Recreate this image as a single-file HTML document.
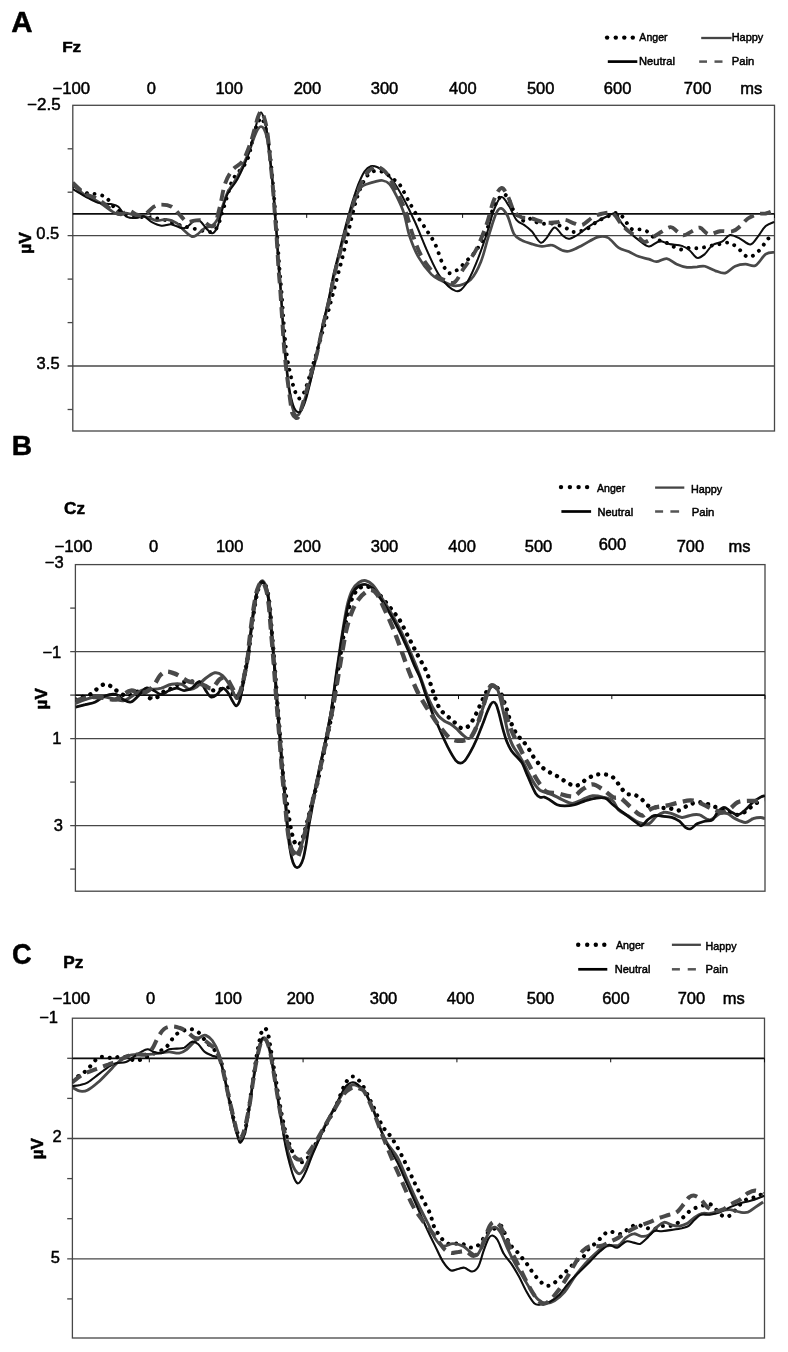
<!DOCTYPE html>
<html><head><meta charset="utf-8"><title>ERP waveforms</title>
<style>
html,body{margin:0;padding:0;background:#fff;}
body{width:788px;height:1352px;overflow:hidden;}
svg{display:block;font-family:"Liberation Sans",sans-serif;fill:#050505;}
text{stroke:#050505;stroke-width:0.5px;stroke-linejoin:round;}
</style></head><body>
<svg width="788" height="1352" viewBox="0 0 788 1352">
<defs><filter id="soft" x="0" y="0" width="788" height="1352" filterUnits="userSpaceOnUse"><feGaussianBlur stdDeviation="0.45"/></filter></defs>
<rect width="788" height="1352" fill="#fff"/>
<g filter="url(#soft)">
<!-- Panel A -->
<clipPath id="clipA"><rect x="72.8" y="103.3" width="701.7" height="329.7"/></clipPath>
<g stroke="#464646" stroke-width="1.3" fill="none">
<line x1="67.6" y1="235.7" x2="774.5" y2="235.7"/>
<line x1="67.6" y1="366.0" x2="774.5" y2="366.0"/>
<line x1="67.6" y1="148.8" x2="72.8" y2="148.8"/>
<line x1="67.6" y1="192.2" x2="72.8" y2="192.2"/>
<line x1="67.6" y1="279.1" x2="72.8" y2="279.1"/>
<line x1="67.6" y1="322.6" x2="72.8" y2="322.6"/>
<line x1="67.6" y1="409.5" x2="72.8" y2="409.5"/>
<rect x="72.8" y="105.3" width="701.7" height="325.7"/>
</g>
<g stroke="#0c0c0c" stroke-width="1.7">
<line x1="72.8" y1="213.9" x2="774.5" y2="213.9"/>
<line x1="150.8" y1="213.9" x2="150.8" y2="217.9" stroke-width="1"/>
<line x1="306.7" y1="213.9" x2="306.7" y2="217.9" stroke-width="1"/>
<line x1="462.6" y1="213.9" x2="462.6" y2="217.9" stroke-width="1"/>
<line x1="618.6" y1="213.9" x2="618.6" y2="217.9" stroke-width="1"/>
<line x1="774.5" y1="213.9" x2="774.5" y2="217.9" stroke-width="1"/>
</g>
<g fill="none" stroke-linejoin="round" clip-path="url(#clipA)">
<path stroke="#030303" stroke-width="3.9" stroke-linecap="round" stroke-dasharray="0.01 7.8" d="M72.7 186.4C75.2 187.6 83.9 192.2 87.9 193.5C91.9 194.7 94.1 193.5 96.8 194.0C99.6 194.5 102.2 195.3 104.4 196.5C106.6 197.8 108.1 199.5 110.0 201.6C111.9 203.7 113.2 207.2 115.8 209.2C118.5 211.2 122.6 212.6 126.0 213.8C129.4 215.0 132.8 215.7 136.1 216.3C139.5 217.0 143.2 217.3 146.3 217.6C149.3 217.9 151.7 217.8 154.4 218.1C157.2 218.4 160.1 218.7 162.8 219.4C165.5 220.0 167.2 220.8 170.4 221.9C173.6 223.0 177.8 224.6 181.8 225.7C185.8 226.9 189.9 227.7 194.5 228.8C199.2 229.8 206.0 232.3 209.7 232.1C213.5 231.8 214.7 230.9 216.9 227.5C219.0 224.1 220.7 217.1 222.4 211.8C224.2 206.4 225.8 200.5 227.5 195.3C229.2 190.0 230.5 184.3 232.6 180.0C234.7 175.8 237.7 173.5 240.2 169.9C242.7 166.3 245.3 165.2 247.8 158.5C250.4 151.7 253.2 136.0 255.4 129.3C257.6 122.5 259.7 119.0 261.1 118.0C262.5 117.0 263.0 120.2 264.0 123.0C265.0 125.8 266.1 130.5 267.0 135.0C267.9 139.5 268.5 141.6 269.5 150.0C270.5 158.4 272.1 174.9 273.1 185.5C274.1 196.1 274.6 205.0 275.3 213.4C276.0 221.8 276.6 227.1 277.2 235.8C277.8 244.5 278.5 256.1 279.2 265.5C279.9 274.9 280.8 283.2 281.5 292.1C282.2 301.0 282.7 309.8 283.4 318.7C284.1 327.6 284.8 337.8 285.6 345.4C286.4 352.9 287.4 359.3 288.2 364.0C289.0 368.7 289.7 370.8 290.4 373.8C291.1 376.8 291.6 379.5 292.3 382.2C293.0 384.9 293.6 387.5 294.6 390.2C295.7 392.9 297.1 398.0 298.6 398.5C300.1 399.0 302.2 395.8 303.7 393.2C305.2 390.6 306.1 387.2 307.5 383.0C308.9 378.8 310.3 373.5 312.0 368.0C313.7 362.5 315.7 356.3 317.5 350.0C319.3 343.7 320.9 337.5 323.0 330.0C325.1 322.5 327.8 313.3 330.0 305.0C332.2 296.7 334.4 288.2 336.5 280.0C338.6 271.8 340.9 263.9 342.8 256.0C344.8 248.1 346.5 239.8 348.2 232.5C349.9 225.2 351.4 218.1 353.0 212.0C354.6 205.9 355.9 200.7 357.5 196.0C359.1 191.3 360.6 187.4 362.3 184.0C364.0 180.6 365.7 177.6 367.5 175.5C369.3 173.4 371.2 172.2 373.0 171.5C374.8 170.8 376.5 170.8 378.5 171.0C380.5 171.2 382.7 171.8 385.0 173.0C387.3 174.2 389.8 176.3 392.3 178.3C394.8 180.3 397.5 181.6 400.0 185.0C402.5 188.4 404.6 193.7 407.5 199.0C410.4 204.3 414.3 211.3 417.7 216.8C421.1 222.3 424.9 227.3 427.8 232.0C430.8 236.7 432.9 239.3 435.4 244.7C437.9 250.1 440.5 259.5 442.8 264.2C445.1 268.9 446.6 272.3 449.2 273.1C451.7 273.9 455.1 271.4 458.1 269.3C461.0 267.2 464.4 262.9 467.0 260.4C469.5 257.9 471.2 256.6 473.3 254.1C475.4 251.5 477.5 248.6 479.6 245.2C481.8 241.8 483.9 239.5 486.0 233.8C488.1 228.0 489.8 217.3 492.3 210.9C494.9 204.6 498.7 198.0 501.2 195.7C503.8 193.4 505.4 194.4 507.6 197.0C509.7 199.5 511.2 206.9 513.9 210.9C516.7 214.9 521.1 219.8 524.1 221.1C527.0 222.3 529.1 218.1 531.7 218.5C534.2 219.0 535.9 222.8 539.3 223.6C542.7 224.5 547.7 223.0 552.0 223.6C556.2 224.2 561.3 226.1 564.7 227.4C568.1 228.8 569.7 231.1 572.3 231.7C574.8 232.4 577.4 231.7 579.9 231.2C582.4 230.7 584.6 230.4 587.5 228.7C590.5 227.0 594.3 223.1 597.7 221.1C601.0 219.0 604.9 217.9 607.8 216.5C610.8 215.1 613.0 212.9 615.4 212.9C617.8 212.9 620.3 214.7 622.3 216.5C624.2 218.3 625.6 221.4 627.3 223.6C629.0 225.8 630.3 228.5 632.4 229.4C634.5 230.4 637.5 229.1 640.0 229.4C642.6 229.8 645.3 230.4 647.6 231.7C650.0 233.1 651.7 236.0 654.0 237.6C656.3 239.2 659.3 240.4 661.6 241.4C663.9 242.3 665.6 242.3 667.9 243.4C670.3 244.5 673.0 246.7 675.6 247.7C678.1 248.8 680.9 249.7 683.2 249.7C685.5 249.7 687.2 248.0 689.5 247.7C691.8 247.5 694.6 248.3 697.1 248.2C699.7 248.1 702.0 247.7 704.8 247.2C707.5 246.7 710.9 245.7 713.6 245.2C716.4 244.6 718.7 244.3 721.2 243.9C723.8 243.5 726.5 242.3 728.9 242.6C731.2 243.0 733.1 244.5 735.2 245.9C737.3 247.4 739.4 249.7 741.6 251.5C743.7 253.4 745.6 256.7 747.9 257.1C750.2 257.5 753.2 255.7 755.5 254.1C757.8 252.4 760.0 249.5 761.9 247.2C763.8 244.9 765.2 242.1 766.9 240.1C768.6 238.1 771.2 235.9 772.0 235.0"/>
<path stroke="#484848" stroke-width="2.7" d="M72.7 185.1C74.8 186.8 81.2 192.5 85.4 195.3C89.6 198.0 93.8 199.1 98.1 201.6C102.3 204.1 107.4 208.4 110.8 210.5C114.1 212.6 115.8 213.9 118.4 214.3C120.9 214.7 123.0 212.8 126.0 213.0C129.0 213.2 132.8 214.9 136.1 215.6C139.5 216.2 142.9 216.0 146.3 216.8C149.7 217.7 153.1 220.2 156.4 220.6C159.8 221.1 163.2 218.9 166.6 219.4C170.0 219.8 173.8 221.3 176.8 223.2C179.7 225.1 181.8 228.5 184.4 230.8C186.9 233.0 189.9 236.0 192.0 236.6C194.1 237.3 194.9 236.0 197.1 234.6C199.2 233.2 202.1 229.7 204.7 228.2C207.2 226.8 210.2 227.2 212.3 225.7C214.4 224.2 215.7 222.5 217.4 219.4C219.1 216.2 220.7 211.1 222.4 206.7C224.1 202.2 225.0 197.8 227.5 192.7C230.1 187.6 234.3 182.6 237.7 176.2C241.0 169.9 245.0 161.3 247.8 154.6C250.7 147.9 253.0 140.3 254.7 136.0C256.4 131.7 256.9 130.6 258.0 129.0C259.1 127.4 260.0 126.5 261.0 126.5C262.0 126.5 263.1 127.4 264.0 129.0C264.9 130.6 265.7 132.8 266.5 136.0C267.3 139.2 267.5 139.7 268.6 148.0C269.7 156.3 271.8 175.0 272.9 186.0C274.0 197.0 274.4 205.5 275.0 213.9C275.6 222.3 276.2 227.6 276.8 236.3C277.4 245.0 278.0 256.6 278.7 266.0C279.4 275.4 280.2 283.7 280.9 292.6C281.5 301.5 282.0 310.3 282.6 319.2C283.2 328.1 283.8 338.0 284.4 346.0C285.0 354.0 285.8 360.3 286.5 367.0C287.2 373.7 287.9 380.3 288.6 386.0C289.4 391.7 290.2 396.8 291.0 401.0C291.8 405.2 292.6 408.6 293.5 411.0C294.4 413.4 295.3 415.1 296.3 415.5C297.3 415.9 298.3 415.6 299.5 413.5C300.7 411.4 302.2 406.9 303.5 403.0C304.8 399.1 306.2 394.5 307.5 390.0C308.8 385.5 309.9 381.8 311.5 376.0C313.1 370.2 315.0 362.9 316.8 355.0C318.6 347.1 320.3 337.3 322.3 328.5C324.3 319.7 326.7 310.9 328.7 302.0C330.7 293.1 332.2 283.9 334.2 275.3C336.1 266.7 338.5 258.1 340.4 250.5C342.3 242.9 344.0 236.1 345.8 229.5C347.6 222.9 349.4 216.2 351.0 211.0C352.6 205.8 353.8 201.9 355.5 198.0C357.2 194.1 358.9 189.7 361.0 187.3C363.1 184.9 365.6 184.6 368.0 183.7C370.4 182.8 372.9 182.1 375.3 181.6C377.7 181.1 380.0 180.1 382.4 180.5C384.8 180.9 387.1 181.4 389.5 184.0C391.9 186.6 394.1 191.1 396.5 196.0C398.9 200.9 401.9 206.9 404.0 213.5C406.1 220.1 406.9 228.1 409.3 235.3C411.7 242.5 414.5 250.1 418.2 256.6C421.9 263.1 427.5 270.3 431.4 274.4C435.3 278.4 437.6 278.8 441.6 280.7C445.6 282.6 450.7 286.0 455.5 285.8C460.4 285.6 466.5 283.5 470.8 279.4C475.0 275.4 478.0 268.9 480.9 261.7C483.9 254.5 486.0 244.3 488.5 236.3C491.1 228.3 494.0 218.1 496.1 213.5C498.3 208.8 499.3 208.0 501.2 208.4C503.1 208.8 505.4 211.8 507.6 216.0C509.7 220.2 511.6 229.7 513.9 233.8C516.2 237.8 518.6 238.4 521.5 240.1C524.5 241.8 528.3 242.9 531.7 243.9C535.1 245.0 538.4 246.2 541.8 246.4C545.2 246.7 548.6 244.5 552.0 245.2C555.4 245.8 559.2 249.3 562.1 250.3C565.1 251.2 566.4 251.9 569.7 251.0C573.1 250.2 577.8 247.5 582.4 245.2C587.1 242.9 593.4 238.3 597.7 237.1C601.9 235.8 604.4 235.8 607.8 237.6C611.3 239.3 615.0 245.4 618.5 247.7C621.9 250.0 625.2 250.0 628.6 251.5C632.0 253.0 635.4 255.3 638.8 256.6C642.1 257.9 646.0 258.3 648.9 259.1C651.9 260.0 653.6 261.8 656.5 261.7C659.5 261.6 663.3 258.2 666.7 258.6C670.1 259.1 673.4 262.8 676.8 264.2C680.2 265.7 683.6 266.8 687.0 267.3C690.4 267.7 694.2 266.9 697.1 266.8C700.1 266.6 701.8 265.6 704.8 266.2C707.7 266.9 711.5 269.4 714.9 270.6C718.3 271.7 721.7 273.8 725.1 273.1C728.4 272.4 731.8 267.7 735.2 266.2C738.6 264.8 742.0 264.3 745.4 264.2C748.7 264.1 752.1 267.2 755.5 265.5C758.9 263.8 762.5 256.3 765.7 254.1C768.8 251.9 773.1 252.6 774.5 252.3"/>
<path stroke="#080808" stroke-width="2.0" d="M72.7 188.9C74.8 190.2 81.2 194.2 85.4 196.5C89.6 198.8 93.8 201.6 98.1 202.9C102.3 204.1 107.4 203.5 110.8 204.1C114.1 204.8 115.8 204.6 118.4 206.7C120.9 208.7 123.0 214.4 126.0 216.3C129.0 218.2 133.2 218.1 136.1 218.1C139.1 218.1 141.2 215.7 143.8 216.3C146.3 217.0 148.4 220.3 151.4 221.9C154.3 223.5 158.1 225.3 161.5 225.7C164.9 226.1 168.3 224.0 171.7 224.4C175.1 224.9 179.3 227.8 181.8 228.2C184.4 228.7 184.8 228.2 186.9 227.0C189.0 225.7 192.4 221.7 194.5 220.6C196.6 219.6 197.5 219.2 199.6 220.6C201.7 222.1 205.1 227.4 207.2 229.5C209.3 231.6 210.6 233.7 212.3 233.3C214.0 232.9 215.7 231.0 217.4 227.0C219.1 223.0 220.7 214.7 222.4 209.2C224.1 203.7 225.0 199.1 227.5 194.0C230.1 188.9 234.3 185.1 237.7 178.8C241.0 172.4 244.9 164.4 247.8 155.9C250.8 147.5 253.7 134.4 255.4 128.0C257.2 121.6 257.4 120.1 258.3 117.5C259.2 114.9 260.1 112.5 261.0 112.5C261.9 112.5 262.7 114.6 263.7 117.5C264.7 120.4 265.9 124.6 266.8 130.0C267.7 135.4 268.3 140.8 269.3 150.0C270.3 159.2 271.9 174.9 272.9 185.5C273.8 196.1 274.4 205.0 275.0 213.4C275.6 221.8 276.2 227.1 276.8 235.8C277.4 244.5 278.0 256.1 278.7 265.5C279.4 274.9 280.2 283.2 280.9 292.1C281.5 301.0 282.0 309.8 282.6 318.7C283.2 327.6 283.8 337.5 284.4 345.4C285.0 353.3 285.8 359.5 286.5 366.3C287.2 373.1 288.0 380.8 288.8 386.2C289.6 391.6 290.6 395.3 291.5 399.0C292.4 402.7 293.4 406.3 294.5 408.5C295.6 410.7 296.8 412.1 298.0 412.3C299.2 412.5 300.5 411.6 301.8 409.6C303.1 407.6 304.5 403.9 305.6 400.5C306.8 397.1 307.7 392.9 308.7 389.0C309.7 385.1 310.3 382.8 311.6 377.0C312.9 371.2 314.9 362.5 316.6 354.3C318.3 346.1 320.1 336.5 322.0 327.6C323.9 318.7 326.3 309.9 328.2 301.0C330.1 292.1 331.6 282.9 333.5 274.3C335.4 265.7 337.8 257.2 339.7 249.5C341.6 241.8 343.2 235.0 345.0 228.2C346.8 221.4 348.8 214.2 350.4 208.6C352.0 203.0 353.3 198.8 354.8 194.4C356.3 190.0 357.7 185.8 359.3 182.0C360.9 178.2 362.7 173.9 364.6 171.3C366.5 168.7 368.7 167.0 370.8 166.3C372.9 165.6 374.8 166.1 377.0 167.0C379.2 167.9 381.4 169.3 384.0 171.5C386.6 173.7 389.2 175.8 392.3 180.0C395.4 184.2 398.6 189.5 402.4 196.5C406.2 203.5 410.8 212.7 415.0 222.0C419.2 231.3 423.6 243.2 427.8 252.4C432.0 261.6 435.7 270.5 440.3 276.9C444.9 283.3 451.3 289.6 455.5 290.9C459.8 292.1 462.3 289.0 465.7 284.5C469.1 280.1 472.5 272.3 475.8 264.2C479.2 256.2 483.0 245.2 486.0 236.3C489.0 227.4 491.1 217.5 493.6 210.9C496.1 204.4 498.7 197.8 501.2 197.0C503.8 196.1 506.3 202.0 508.8 205.8C511.4 209.6 513.9 216.6 516.4 219.8C519.0 223.0 521.5 223.0 524.1 224.9C526.6 226.8 528.9 228.3 531.7 231.2C534.4 234.2 538.0 241.6 540.6 242.6C543.1 243.7 544.6 240.1 546.9 237.6C549.2 235.0 552.0 227.8 554.5 227.4C557.1 227.0 559.8 233.1 562.1 235.0C564.5 236.9 565.9 238.8 568.5 238.8C571.0 238.8 574.2 236.9 577.4 235.0C580.5 233.1 584.1 229.7 587.5 227.4C590.9 225.1 594.3 223.0 597.7 221.1C601.0 219.2 604.9 217.3 607.8 216.0C610.8 214.7 613.2 212.4 615.4 213.5C617.6 214.5 618.4 219.0 621.0 222.3C623.6 225.7 628.2 230.8 631.1 233.8C634.1 236.7 635.8 238.0 638.8 240.1C641.7 242.2 645.5 246.2 648.9 246.4C652.3 246.7 655.7 241.8 659.1 241.4C662.5 240.9 665.4 243.1 669.2 243.9C673.0 244.7 678.5 244.9 681.9 245.9C685.3 247.0 687.0 248.3 689.5 250.3C692.1 252.2 694.6 257.2 697.1 257.9C699.7 258.5 702.2 256.2 704.8 254.1C707.3 251.9 709.4 247.3 712.4 245.2C715.3 243.1 719.6 243.1 722.5 241.4C725.5 239.7 727.2 235.4 730.1 235.0C733.1 234.6 736.9 237.3 740.3 238.8C743.7 240.4 747.5 244.8 750.4 244.4C753.4 244.0 755.5 239.3 758.1 236.3C760.6 233.2 762.9 228.6 765.7 226.1C768.4 223.7 773.1 222.5 774.5 221.8"/>
<path stroke="#484848" stroke-width="3.9" stroke-dasharray="11 6.5" d="M72.7 182.6C74.8 184.5 81.2 191.2 85.4 194.0C89.6 196.7 93.8 196.5 98.1 199.1C102.3 201.6 107.0 206.7 110.8 209.2C114.6 211.8 118.0 214.1 120.9 214.3C123.9 214.5 126.0 210.5 128.5 210.5C131.1 210.5 133.6 213.4 136.1 214.3C138.7 215.1 140.8 216.8 143.8 215.6C146.7 214.3 150.9 208.5 153.9 206.7C156.9 204.9 158.6 204.6 161.5 204.6C164.5 204.6 168.7 205.1 171.7 206.7C174.6 208.3 176.8 211.8 179.3 214.3C181.8 216.8 184.4 220.8 186.9 221.9C189.4 223.0 192.0 220.8 194.5 220.6C197.1 220.4 199.6 219.8 202.1 220.6C204.7 221.5 207.6 225.1 209.7 225.7C211.9 226.3 213.1 227.6 214.8 224.4C216.5 221.3 218.2 213.4 219.9 206.7C221.6 199.9 222.9 190.0 225.0 183.8C227.1 177.7 229.6 173.7 232.6 169.9C235.5 166.1 239.8 165.4 242.7 161.0C245.7 156.5 248.4 148.4 250.4 143.2C252.3 138.1 253.0 134.4 254.3 130.0C255.6 125.6 256.9 120.1 258.0 117.0C259.1 113.9 260.0 111.5 261.0 111.5C262.0 111.5 263.0 113.9 264.0 117.0C265.0 120.1 266.1 124.5 267.0 130.0C267.9 135.5 268.4 140.8 269.3 150.0C270.2 159.2 271.8 174.9 272.7 185.5C273.6 196.1 274.2 205.0 274.8 213.4C275.4 221.8 275.9 227.1 276.5 235.8C277.1 244.5 277.7 256.1 278.3 265.5C278.9 274.9 279.8 283.2 280.4 292.1C281.0 301.0 281.5 309.8 282.1 318.7C282.7 327.6 283.3 337.5 283.9 345.4C284.5 353.3 285.2 359.9 285.9 366.3C286.6 372.7 287.2 377.8 288.0 383.7C288.8 389.6 289.7 397.1 290.4 402.0C291.1 406.9 291.4 410.8 292.3 413.4C293.2 416.0 294.6 417.3 295.7 417.8C296.8 418.3 297.5 418.8 298.7 416.5C299.9 414.2 301.2 408.9 302.6 404.3C304.0 399.7 305.6 394.1 307.0 389.0C308.4 383.9 309.4 379.6 311.0 373.8C312.6 368.0 314.9 362.0 316.8 354.3C318.7 346.6 320.5 336.5 322.5 327.6C324.5 318.7 327.0 309.9 329.0 301.0C331.0 292.1 332.5 282.9 334.5 274.3C336.5 265.7 338.9 257.2 340.9 249.5C342.9 241.8 344.5 235.0 346.3 228.2C348.1 221.4 350.1 214.2 351.8 208.6C353.5 203.0 354.9 198.8 356.5 194.4C358.1 190.1 359.7 186.2 361.5 182.5C363.3 178.8 365.5 175.0 367.5 172.5C369.5 170.0 371.7 168.4 373.5 167.5C375.3 166.6 376.3 166.1 378.3 166.8C380.3 167.6 383.2 169.5 385.5 172.0C387.8 174.5 389.8 178.0 392.0 182.0C394.2 186.0 396.6 190.8 399.0 196.0C401.4 201.2 404.0 206.9 406.3 213.5C408.6 220.1 410.3 228.1 412.9 235.3C415.5 242.5 418.0 250.1 421.7 256.6C425.4 263.1 431.2 270.5 435.0 274.4C438.7 278.3 440.9 278.6 444.1 279.9C447.3 281.3 451.1 284.3 454.3 282.5C457.4 280.7 459.6 274.7 463.1 269.3C466.7 263.9 472.0 257.4 475.8 250.3C479.6 243.1 483.0 234.4 486.0 226.1C489.0 217.9 491.1 207.1 493.6 200.8C496.1 194.4 498.9 188.9 501.2 188.1C503.5 187.2 505.4 191.9 507.6 195.7C509.7 199.5 511.6 207.3 513.9 210.9C516.2 214.5 518.6 216.0 521.5 217.3C524.5 218.5 527.9 217.7 531.7 218.5C535.5 219.4 540.1 221.7 544.4 222.3C548.6 223.0 553.7 222.8 557.1 222.3C560.4 221.9 561.7 219.6 564.7 219.8C567.6 220.0 571.9 222.8 574.8 223.6C577.8 224.5 579.5 225.9 582.4 224.9C585.4 223.8 589.2 219.2 592.6 217.3C596.0 215.4 599.4 214.1 602.7 213.5C606.1 212.8 609.9 211.8 612.9 213.5C615.9 215.1 618.4 220.6 621.0 223.6C623.6 226.6 625.6 228.9 628.6 231.2C631.6 233.5 636.0 235.8 638.8 237.6C641.6 239.3 642.4 242.3 645.4 241.9C648.3 241.5 652.4 237.5 656.5 235.0C660.6 232.6 666.6 227.8 670.0 227.2C673.4 226.5 674.6 229.9 676.8 231.2C679.1 232.6 680.9 235.3 683.4 235.3C686.0 235.3 689.3 232.5 692.1 231.2C694.8 229.9 697.1 227.2 699.9 227.7C702.7 228.2 705.5 233.7 708.8 234.3C712.2 234.9 716.0 231.7 720.0 231.2C724.0 230.7 729.3 232.1 732.7 231.2C736.1 230.4 737.7 228.3 740.3 226.1C742.8 224.0 744.9 220.6 747.9 218.5C750.9 216.5 755.1 214.8 758.1 214.0C761.0 213.1 762.9 214.0 765.7 213.5C768.4 212.9 773.1 210.9 774.5 210.4"/>
</g>
<text transform="translate(11.36,31.80) scale(0.992,1)" font-size="29.8" font-weight="bold">A</text>
<text transform="translate(62.14,51.60) scale(1.168,1)" font-size="14.7" font-weight="bold">Fz</text>
<text transform="translate(52.40,93.60) scale(1.015,1)" font-size="16.5">−100</text>
<text transform="translate(146.82,93.60) scale(1.000,1)" font-size="16.5">0</text>
<text transform="translate(215.43,93.60) scale(1.000,1)" font-size="16.5">100</text>
<text transform="translate(293.64,93.60) scale(1.000,1)" font-size="16.5">200</text>
<text transform="translate(370.74,93.60) scale(1.000,1)" font-size="16.5">300</text>
<text transform="translate(449.07,93.60) scale(1.000,1)" font-size="16.5">400</text>
<text transform="translate(526.92,93.60) scale(1.000,1)" font-size="16.5">500</text>
<text transform="translate(603.84,93.60) scale(1.000,1)" font-size="16.5">600</text>
<text transform="translate(683.84,93.60) scale(1.000,1)" font-size="16.5">700</text>
<text transform="translate(740.26,93.60) scale(1.000,1)" font-size="16.5">ms</text>
<text transform="translate(27.09,109.90) scale(1.029,1)" font-size="16.5">−2.5</text>
<text transform="translate(36.33,238.70) scale(1.000,1)" font-size="16.5">0.5</text>
<text transform="translate(36.62,369.20) scale(1.000,1)" font-size="16.5">3.5</text>
<text transform="translate(31.20,253.83) rotate(-90) scale(1.050,1)" font-size="16.6" font-weight="bold">µV</text>
<circle cx="607.1" cy="37.6" r="2.2" fill="#030303"/>
<circle cx="615.8" cy="37.6" r="2.2" fill="#030303"/>
<circle cx="624.3" cy="37.6" r="2.2" fill="#030303"/>
<circle cx="632.8" cy="37.6" r="2.2" fill="#030303"/>
<text transform="translate(639.37,41.00) scale(0.935,1)" font-size="11.3">Anger</text>
<line x1="701.2" y1="38.0" x2="731.6" y2="38.0" stroke="#444" stroke-width="2.3"/>
<text transform="translate(731.70,41.30) scale(0.969,1)" font-size="11.3">Happy</text>
<line x1="607.8" y1="61.6" x2="637.3" y2="61.6" stroke="#030303" stroke-width="2.7"/>
<text transform="translate(638.98,65.40) scale(0.987,1)" font-size="11.3">Neutral</text>
<line x1="699.2" y1="61.6" x2="707.0" y2="61.6" stroke="#555" stroke-width="2.5"/>
<line x1="714.5" y1="61.6" x2="722.5" y2="61.6" stroke="#555" stroke-width="2.5"/>
<text transform="translate(731.67,65.10) scale(0.997,1)" font-size="11.3">Pain</text>
<!-- Panel B -->
<clipPath id="clipB"><rect x="75.4" y="562.6" width="689.6" height="330.6"/></clipPath>
<g stroke="#464646" stroke-width="1.3" fill="none">
<line x1="70.2" y1="651.6" x2="765.0" y2="651.6"/>
<line x1="70.2" y1="738.6" x2="765.0" y2="738.6"/>
<line x1="70.2" y1="825.6" x2="765.0" y2="825.6"/>
<line x1="70.2" y1="608.1" x2="75.4" y2="608.1"/>
<line x1="70.2" y1="695.1" x2="75.4" y2="695.1"/>
<line x1="70.2" y1="782.1" x2="75.4" y2="782.1"/>
<line x1="70.2" y1="869.1" x2="75.4" y2="869.1"/>
<rect x="75.4" y="564.6" width="689.6" height="326.6"/>
</g>
<g stroke="#0c0c0c" stroke-width="1.7">
<line x1="75.4" y1="695.1" x2="765.0" y2="695.1"/>
<line x1="152.0" y1="695.1" x2="152.0" y2="699.1" stroke-width="1"/>
<line x1="305.3" y1="695.1" x2="305.3" y2="699.1" stroke-width="1"/>
<line x1="458.5" y1="695.1" x2="458.5" y2="699.1" stroke-width="1"/>
<line x1="611.8" y1="695.1" x2="611.8" y2="699.1" stroke-width="1"/>
<line x1="765.0" y1="695.1" x2="765.0" y2="699.1" stroke-width="1"/>
</g>
<g fill="none" stroke-linejoin="round" clip-path="url(#clipB)">
<path stroke="#030303" stroke-width="4.37" stroke-linecap="round" stroke-dasharray="0.01 7.8" d="M75.6 699.5C76.8 699.1 80.2 697.8 82.7 697.0C85.1 696.1 88.0 695.7 90.3 694.4C92.6 693.1 94.3 691.0 96.6 689.3C99.0 687.6 101.7 684.7 104.3 684.3C106.8 683.8 109.6 685.5 111.9 686.8C114.2 688.1 115.9 690.4 118.2 691.9C120.5 693.4 123.3 695.3 125.8 695.7C128.4 696.1 130.9 695.3 133.5 694.4C136.0 693.6 138.3 690.0 141.1 690.6C143.8 691.2 147.2 697.2 149.9 698.2C152.7 699.3 155.0 698.2 157.6 697.0C160.1 695.7 162.6 692.1 165.2 690.6C167.7 689.1 170.3 689.3 172.8 688.1C175.3 686.8 177.9 684.1 180.4 683.0C182.9 681.9 185.5 681.9 188.0 681.7C190.6 681.5 193.1 681.3 195.6 681.7C198.2 682.1 200.9 683.0 203.2 684.3C205.6 685.5 207.3 688.3 209.6 689.3C211.9 690.4 214.9 690.8 217.2 690.6C219.5 690.4 221.4 688.5 223.6 688.1C225.7 687.6 228.0 686.6 229.9 688.1C231.8 689.6 233.3 695.9 235.0 697.0C236.7 698.0 238.6 697.6 240.1 694.4C241.5 691.2 242.6 684.1 243.9 677.9C245.1 671.8 246.6 663.8 247.7 657.6C248.7 651.5 249.3 647.3 250.1 641.0C250.9 634.7 251.8 626.2 252.7 619.7C253.6 613.2 254.5 607.0 255.4 602.0C256.3 597.0 256.9 592.9 258.1 589.5C259.3 586.1 261.0 581.5 262.5 581.5C264.0 581.5 265.7 585.5 266.9 589.5C268.1 593.5 268.9 599.3 269.6 605.5C270.4 611.7 270.8 619.7 271.4 626.8C272.0 633.9 272.6 641.1 273.2 648.2C273.8 655.3 274.3 661.8 274.9 669.5C275.5 677.2 276.1 686.3 276.7 694.3C277.3 702.3 277.9 710.0 278.5 717.4C279.1 724.8 279.7 731.3 280.3 738.7C280.9 746.1 281.4 754.4 282.0 761.8C282.6 769.2 283.3 778.4 283.8 783.1C284.3 787.8 284.6 787.0 285.1 790.0C285.6 793.0 286.1 797.2 286.6 801.0C287.1 804.8 287.6 809.2 288.2 813.0C288.8 816.8 289.4 820.5 290.0 824.0C290.6 827.5 291.2 831.0 292.0 834.0C292.8 837.0 293.5 840.1 294.5 842.0C295.5 843.9 296.8 845.7 298.0 845.5C299.2 845.3 300.4 843.2 301.5 841.0C302.6 838.8 303.5 835.3 304.5 832.0C305.5 828.7 306.5 824.8 307.5 821.0C308.5 817.2 309.5 813.0 310.5 809.0C311.5 805.0 312.4 801.3 313.5 797.0C314.6 792.7 315.8 789.6 317.3 783.1C318.8 776.6 320.8 766.6 322.6 758.3C324.4 750.0 326.2 741.6 327.9 733.4C329.6 725.2 331.1 718.2 332.6 709.0C334.1 699.8 335.5 688.2 337.0 678.0C338.5 667.8 340.1 656.8 341.5 648.0C342.9 639.2 344.0 631.8 345.3 625.0C346.6 618.2 347.8 612.0 349.2 607.0C350.6 602.0 351.9 598.2 353.6 595.0C355.3 591.8 357.4 589.4 359.5 588.0C361.6 586.6 364.0 586.3 366.3 586.5C368.6 586.7 371.0 587.2 373.5 589.0C376.0 590.8 379.0 594.2 381.5 597.0C384.0 599.8 386.5 603.2 388.6 605.8C390.7 608.4 392.3 610.3 394.0 612.5C395.7 614.7 397.5 616.6 399.0 619.0C400.5 621.4 401.8 624.2 403.2 626.8C404.6 629.4 405.9 632.2 407.2 634.7C408.5 637.2 409.7 639.5 411.0 642.0C412.3 644.5 413.5 646.9 414.8 649.5C416.1 652.1 417.6 654.9 419.0 657.5C420.4 660.1 421.9 662.7 423.2 665.2C424.5 667.7 425.8 669.6 426.9 672.3C428.0 675.0 428.8 678.4 429.7 681.2C430.6 684.0 431.3 686.4 432.2 689.0C433.1 691.6 433.8 694.0 434.8 696.7C435.8 699.4 436.7 702.8 438.0 705.3C439.3 707.8 440.7 710.0 442.5 712.0C444.3 714.0 446.8 715.7 448.9 717.5C451.0 719.3 453.1 721.2 455.3 723.0C457.5 724.8 459.7 727.8 461.9 728.3C464.1 728.8 466.8 727.6 468.7 726.0C470.6 724.4 472.1 721.2 473.6 718.7C475.1 716.2 476.3 713.5 477.6 710.8C478.9 708.1 480.0 705.3 481.2 702.7C482.4 700.1 483.6 697.3 484.8 695.0C486.0 692.7 487.2 690.6 488.5 689.0C489.8 687.4 491.3 685.3 492.8 685.2C494.3 685.1 496.2 686.8 497.7 688.3C499.1 689.8 500.4 692.0 501.5 694.4C502.6 696.8 503.5 699.9 504.5 702.7C505.5 705.5 506.4 708.2 507.3 711.0C508.2 713.8 508.8 716.7 509.8 719.5C510.8 722.3 511.9 724.9 513.2 727.6C514.5 730.3 515.9 733.3 517.5 735.5C519.1 737.7 521.0 738.6 522.8 740.8C524.6 742.9 526.6 745.7 528.4 748.4C530.2 751.1 532.0 754.6 533.4 756.8C534.8 759.0 535.9 760.1 537.0 761.5C538.1 762.9 538.8 763.9 540.0 765.2C541.2 766.5 542.6 767.8 544.4 769.1C546.2 770.4 548.4 771.6 550.7 772.9C553.0 774.2 555.8 775.3 558.3 776.8C560.8 778.3 563.3 780.3 565.9 781.8C568.5 783.3 571.3 785.2 573.6 785.6C575.9 786.0 577.8 785.5 579.9 784.4C582.0 783.3 583.9 780.8 586.2 779.3C588.5 777.8 591.4 776.4 593.9 775.5C596.4 774.6 598.8 774.2 601.5 774.2C604.2 774.2 607.9 774.5 610.3 775.5C612.7 776.6 614.1 778.6 615.9 780.6C617.7 782.6 619.2 785.5 621.0 787.7C622.8 789.9 624.5 792.7 626.6 793.8C628.7 794.9 631.3 793.8 633.7 794.6C636.1 795.3 638.5 796.6 640.8 798.4C643.1 800.2 645.2 804.0 647.6 805.5C650.1 807.0 652.7 806.8 655.3 807.3C657.8 807.7 660.3 807.8 662.9 808.0C665.4 808.2 667.9 808.1 670.5 808.5C673.0 809.0 675.8 810.8 678.1 810.6C680.4 810.3 682.5 808.2 684.4 807.3C686.4 806.3 687.4 805.6 689.5 804.7C691.6 803.9 694.4 802.4 697.1 802.2C699.9 802.0 703.3 802.7 706.0 803.5C708.8 804.2 711.1 805.7 713.6 806.5C716.2 807.3 718.7 807.6 721.2 808.5C723.8 809.5 726.3 811.3 728.9 812.3C731.4 813.4 733.9 814.9 736.5 814.9C739.0 814.9 742.0 813.4 744.1 812.3C746.2 811.3 747.3 810.0 749.2 808.5C751.1 807.0 753.4 804.8 755.5 803.5C757.6 802.1 760.8 800.9 761.9 800.4"/>
<path stroke="#484848" stroke-width="3.02" d="M75.6 703.3C77.2 702.7 81.9 700.5 85.2 699.5C88.5 698.4 92.0 697.4 95.4 697.0C98.8 696.5 102.1 696.5 105.5 697.0C108.9 697.4 112.7 698.9 115.7 699.5C118.6 700.1 120.8 701.2 123.3 700.8C125.8 700.3 128.4 698.4 130.9 697.0C133.5 695.5 136.0 693.1 138.5 691.9C141.1 690.6 143.6 689.8 146.1 689.3C148.7 688.9 151.2 689.6 153.8 689.3C156.3 689.1 158.4 688.9 161.4 688.1C164.3 687.2 168.1 684.9 171.5 684.3C174.9 683.6 178.7 683.4 181.7 684.3C184.6 685.1 186.8 688.9 189.3 689.3C191.8 689.8 194.4 688.5 196.9 686.8C199.4 685.1 201.6 681.5 204.5 679.2C207.5 676.9 211.7 673.5 214.7 672.8C217.6 672.2 219.7 673.3 222.3 675.4C224.8 677.5 227.6 681.7 229.9 685.5C232.2 689.3 234.6 697.0 236.2 698.2C237.9 699.5 238.8 696.5 240.1 693.1C241.3 689.8 242.6 683.8 243.9 677.9C245.1 672.0 246.7 663.9 247.7 657.6C248.7 651.3 249.1 646.7 249.9 640.2C250.7 633.7 251.6 625.4 252.5 618.9C253.4 612.4 254.3 606.2 255.2 601.2C256.1 596.2 256.7 592.1 257.9 588.7C259.1 585.3 260.8 580.7 262.3 580.7C263.8 580.7 265.5 584.7 266.7 588.7C267.9 592.7 268.6 598.5 269.4 604.7C270.1 610.9 270.6 618.9 271.2 626.0C271.8 633.1 272.4 640.3 273.0 647.4C273.6 654.5 274.1 661.0 274.7 668.7C275.3 676.4 275.9 685.5 276.5 693.5C277.1 701.5 277.7 709.2 278.3 716.6C278.9 724.0 279.5 730.5 280.1 737.9C280.7 745.3 281.2 753.6 281.8 761.0C282.4 768.4 282.9 774.6 283.6 782.3C284.3 790.0 285.3 800.0 285.9 807.0C286.5 814.0 286.6 818.7 287.2 824.0C287.8 829.3 288.4 834.9 289.2 839.0C290.0 843.1 291.1 846.3 292.0 848.5C292.9 850.7 293.7 851.2 294.5 852.0C295.3 852.8 296.0 853.4 296.8 853.0C297.6 852.6 298.6 851.3 299.5 849.5C300.4 847.7 301.5 845.1 302.5 842.0C303.5 838.9 304.5 835.0 305.5 831.0C306.5 827.0 307.5 822.3 308.6 818.0C309.7 813.7 310.6 810.8 311.9 805.0C313.2 799.2 314.9 790.9 316.6 783.1C318.3 775.3 320.1 766.6 321.9 758.3C323.7 750.0 325.6 741.6 327.2 733.4C328.8 725.2 330.2 718.6 331.7 709.0C333.2 699.4 334.6 686.3 336.1 675.6C337.6 664.9 339.2 654.0 340.6 645.0C342.0 636.0 343.1 628.6 344.3 621.5C345.5 614.4 346.6 607.8 348.0 602.5C349.4 597.2 350.8 593.1 352.6 589.8C354.4 586.5 356.7 584.0 358.9 582.5C361.1 581.0 363.5 580.3 365.8 580.7C368.1 581.1 370.4 582.5 372.8 585.0C375.2 587.5 377.7 591.8 380.5 596.0C383.3 600.2 386.6 605.3 389.6 610.5C392.7 615.7 395.7 621.0 398.8 627.0C401.9 633.0 405.2 640.2 408.0 646.5C410.8 652.8 413.6 659.6 415.6 664.5C417.6 669.4 418.2 671.3 420.0 676.0C421.8 680.7 424.1 687.7 426.1 692.8C428.1 697.9 430.2 702.7 432.2 706.5C434.2 710.3 436.3 713.3 438.3 715.7C440.3 718.1 442.4 719.6 444.4 721.0C446.4 722.4 448.5 722.7 450.5 724.0C452.5 725.3 454.5 726.8 456.5 728.6C458.5 730.4 460.6 733.1 462.6 734.7C464.6 736.4 466.9 738.6 468.7 738.5C470.5 738.4 471.8 736.5 473.3 734.0C474.8 731.5 476.4 727.4 477.9 723.3C479.4 719.2 480.9 714.2 482.4 709.6C483.9 705.0 485.6 699.7 487.0 695.9C488.4 692.1 489.7 688.6 490.8 686.8C491.9 685.0 492.8 684.7 493.9 685.2C495.0 685.7 496.6 687.2 497.7 689.8C498.8 692.3 499.6 695.9 500.7 700.5C501.8 705.1 503.2 711.6 504.5 717.2C505.8 722.8 506.9 729.2 508.3 734.0C509.7 738.8 511.1 742.5 512.9 746.0C514.7 749.5 517.0 752.0 519.0 755.3C521.0 758.6 523.2 762.5 525.0 766.0C526.8 769.5 528.2 772.7 530.0 776.0C531.8 779.3 534.0 783.3 535.7 785.7C537.4 788.1 538.5 789.2 540.0 790.3C541.5 791.3 542.4 791.3 544.4 792.0C546.4 792.7 549.0 793.2 552.0 794.5C555.0 795.8 558.7 798.1 562.1 799.6C565.5 801.1 568.9 803.4 572.3 803.4C575.7 803.4 579.0 800.9 582.4 799.6C585.8 798.3 589.2 796.2 592.6 795.8C596.0 795.4 599.3 796.2 602.7 797.1C606.1 798.0 610.3 798.8 612.9 800.9C615.5 803.0 615.8 807.3 618.5 809.8C621.1 812.3 625.2 814.0 628.6 816.1C632.0 818.3 635.4 821.2 638.8 822.5C642.1 823.8 646.0 824.8 648.9 823.8C651.9 822.7 654.0 818.0 656.5 816.1C659.1 814.2 661.6 812.8 664.1 812.3C666.7 811.9 668.8 812.8 671.8 813.6C674.7 814.5 678.5 817.2 681.9 817.4C685.3 817.6 689.1 815.3 692.1 814.9C695.0 814.5 696.7 814.0 699.7 814.9C702.6 815.7 706.4 820.2 709.8 819.9C713.2 819.7 717.0 814.7 720.0 813.6C722.9 812.5 725.1 812.8 727.6 813.6C730.1 814.5 732.2 817.2 735.2 818.7C738.2 820.2 742.4 822.5 745.4 822.5C748.3 822.5 750.4 819.5 753.0 818.7C755.5 817.8 758.6 817.4 760.6 817.4C762.6 817.4 764.2 818.5 764.9 818.7"/>
<path stroke="#080808" stroke-width="2.69" d="M75.6 707.1C77.2 706.7 81.9 705.4 85.2 704.6C88.5 703.7 92.0 703.5 95.4 702.0C98.8 700.5 102.1 697.0 105.5 695.7C108.9 694.4 112.7 693.8 115.7 694.4C118.6 695.1 120.8 698.2 123.3 699.5C125.8 700.8 128.4 702.7 130.9 702.0C133.5 701.4 136.0 698.0 138.5 695.7C141.1 693.4 143.6 688.9 146.1 688.1C148.7 687.2 151.2 689.6 153.8 690.6C156.3 691.7 158.8 694.4 161.4 694.4C163.9 694.4 166.4 691.7 169.0 690.6C171.5 689.6 174.1 688.1 176.6 688.1C179.1 688.1 181.7 690.6 184.2 690.6C186.8 690.6 189.3 689.6 191.8 688.1C194.4 686.6 197.1 681.3 199.4 681.7C201.8 682.1 203.9 688.1 205.8 690.6C207.7 693.1 209.0 696.3 210.9 697.0C212.8 697.6 215.3 695.9 217.2 694.4C219.1 692.9 220.6 688.5 222.3 688.1C224.0 687.6 225.7 689.8 227.4 691.9C229.1 694.0 231.0 698.4 232.4 700.8C233.9 703.1 235.0 706.0 236.2 705.8C237.5 705.6 238.8 703.7 240.1 699.5C241.3 695.3 242.6 687.0 243.9 680.5C245.1 673.9 246.7 666.7 247.7 660.2C248.7 653.6 249.0 647.7 249.8 641.0C250.6 634.3 251.5 626.2 252.4 619.7C253.3 613.2 254.2 607.0 255.1 602.0C256.0 597.0 256.6 592.9 257.8 589.5C259.0 586.1 260.7 581.5 262.2 581.5C263.7 581.5 265.4 585.5 266.6 589.5C267.8 593.5 268.6 599.3 269.3 605.5C270.1 611.7 270.5 619.7 271.1 626.8C271.7 633.9 272.3 641.1 272.9 648.2C273.5 655.3 274.0 661.8 274.6 669.5C275.2 677.2 275.8 686.3 276.4 694.3C277.0 702.3 277.6 710.0 278.2 717.4C278.8 724.8 279.4 731.3 280.0 738.7C280.6 746.1 281.1 754.4 281.7 761.8C282.3 769.2 282.8 775.4 283.5 783.1C284.2 790.8 285.4 800.7 286.0 807.8C286.6 814.9 286.8 819.6 287.3 825.5C287.8 831.4 288.4 837.8 289.1 843.3C289.9 848.8 290.9 854.7 291.8 858.4C292.7 862.1 293.5 864.0 294.4 865.5C295.3 867.0 296.1 867.7 297.1 867.7C298.1 867.7 299.2 867.0 300.2 865.5C301.2 864.0 302.3 861.8 303.3 858.4C304.3 855.0 305.1 850.3 306.0 845.1C306.9 839.9 307.7 833.1 308.6 827.3C309.6 821.5 310.4 817.8 311.7 810.4C313.0 803.0 314.7 791.8 316.4 783.1C318.1 774.4 319.9 766.6 321.7 758.3C323.5 750.0 325.4 741.6 327.0 733.4C328.6 725.2 330.0 718.5 331.5 709.0C333.0 699.5 334.6 687.1 336.1 676.6C337.6 666.1 339.3 655.0 340.7 646.1C342.1 637.2 343.2 630.1 344.5 623.3C345.8 616.4 346.9 610.1 348.3 605.0C349.7 599.9 351.0 596.0 352.8 592.8C354.6 589.6 356.7 587.4 358.9 586.0C361.1 584.6 363.5 584.1 365.8 584.5C368.1 584.9 370.2 586.0 372.6 588.3C375.0 590.6 377.5 594.2 380.3 598.2C383.1 602.2 386.4 607.4 389.4 612.6C392.4 617.8 395.4 623.3 398.5 629.4C401.6 635.5 404.9 642.9 407.7 649.2C410.5 655.6 413.2 662.8 415.3 667.5C417.4 672.2 418.2 672.9 420.0 677.6C421.8 682.3 424.1 690.1 426.1 695.9C428.1 701.7 430.2 707.5 432.2 712.6C434.2 717.7 436.3 721.7 438.3 726.3C440.3 730.9 442.4 735.7 444.4 740.0C446.4 744.3 448.6 748.8 450.5 752.2C452.4 755.6 454.2 758.8 455.8 760.6C457.4 762.4 458.9 763.2 460.4 763.2C461.9 763.2 463.2 762.4 464.9 760.6C466.5 758.8 468.4 755.6 470.3 752.2C472.2 748.8 474.3 744.6 476.3 740.0C478.3 735.4 480.6 729.4 482.4 724.8C484.2 720.2 485.6 716.0 487.0 712.6C488.4 709.2 489.7 706.1 490.8 704.3C491.9 702.5 492.5 702.0 493.4 702.0C494.3 702.0 495.1 702.3 496.1 704.3C497.1 706.3 498.1 710.0 499.2 714.2C500.3 718.4 501.7 724.8 503.0 729.4C504.3 734.0 505.4 738.0 506.8 741.6C508.2 745.2 509.6 748.0 511.4 750.7C513.2 753.4 515.7 755.6 517.5 757.6C519.3 759.6 520.5 760.2 522.0 762.9C523.5 765.5 525.1 770.0 526.6 773.5C528.1 777.0 529.7 780.9 531.2 784.2C532.7 787.5 534.2 791.2 535.7 793.4C537.2 795.6 538.5 796.6 540.0 797.2C541.5 797.8 542.8 796.7 544.4 797.1C546.0 797.5 547.3 798.3 549.4 799.6C551.5 800.9 554.5 803.7 557.1 804.7C559.7 805.8 561.8 805.9 564.7 805.9C567.7 805.9 571.4 805.5 574.8 804.7C578.2 803.9 581.6 802.0 585.0 800.9C588.4 799.8 591.7 798.7 595.1 798.3C598.5 797.9 602.3 797.2 605.3 798.3C608.3 799.4 609.4 801.9 612.9 804.7C616.4 807.5 622.2 811.9 626.1 814.9C630.0 817.8 633.7 820.7 636.2 822.5C638.8 824.3 639.4 826.2 641.3 825.8C643.2 825.4 645.5 821.6 647.6 819.9C649.8 818.3 651.7 816.3 654.0 815.6C656.3 815.0 658.6 815.8 661.6 816.1C664.6 816.4 668.8 816.6 671.8 817.4C674.7 818.3 677.0 819.5 679.4 821.2C681.7 822.9 683.8 826.3 685.7 827.6C687.6 828.8 688.9 829.5 690.8 828.8C692.7 828.2 694.8 825.0 697.1 823.8C699.5 822.5 702.2 821.9 704.8 821.2C707.3 820.6 710.3 821.4 712.4 819.9C714.5 818.5 715.5 814.5 717.4 812.3C719.3 810.2 721.7 807.5 723.8 807.3C725.9 807.0 727.8 809.8 730.1 811.1C732.5 812.3 735.2 815.1 737.7 814.9C740.3 814.7 742.8 811.9 745.4 809.8C747.9 807.7 750.4 804.3 753.0 802.2C755.5 800.1 758.6 798.2 760.6 797.1C762.6 796.0 764.2 796.0 764.9 795.8"/>
<path stroke="#484848" stroke-width="4.37" stroke-dasharray="11 6.5" d="M75.6 700.8C77.2 700.3 81.9 698.9 85.2 698.2C88.5 697.6 92.0 697.0 95.4 697.0C98.8 697.0 102.1 697.8 105.5 698.2C108.9 698.6 112.7 700.1 115.7 699.5C118.6 698.9 120.8 695.9 123.3 694.4C125.8 692.9 128.4 691.0 130.9 690.6C133.5 690.2 136.0 691.7 138.5 691.9C141.1 692.1 143.6 692.9 146.1 691.9C148.7 690.8 151.4 688.3 153.8 685.5C156.1 682.8 158.0 677.7 160.1 675.4C162.2 673.1 164.1 671.9 166.4 671.6C168.8 671.2 171.5 672.4 174.1 673.4C176.6 674.3 179.1 676.0 181.7 677.4C184.2 678.8 186.8 680.9 189.3 681.7C191.8 682.6 194.4 681.9 196.9 682.5C199.4 683.1 202.0 684.6 204.5 685.5C207.1 686.5 209.6 689.1 212.1 688.1C214.7 687.0 217.4 680.9 219.7 679.2C222.1 677.5 224.0 676.4 226.1 677.9C228.2 679.4 230.7 685.1 232.4 688.1C234.1 691.0 235.0 695.1 236.2 695.7C237.5 696.3 238.8 694.8 240.1 691.9C241.3 688.9 242.6 683.6 243.9 677.9C245.1 672.2 246.7 663.8 247.7 657.6C248.6 651.5 248.7 647.3 249.4 641.0C250.1 634.7 251.1 626.2 252.0 619.7C252.9 613.2 253.8 607.0 254.7 602.0C255.6 597.0 256.2 592.9 257.4 589.5C258.6 586.1 260.3 581.5 261.8 581.5C263.3 581.5 265.0 585.5 266.2 589.5C267.4 593.5 268.1 599.3 268.9 605.5C269.6 611.7 270.1 619.7 270.7 626.8C271.3 633.9 271.9 641.1 272.5 648.2C273.1 655.3 273.6 661.8 274.2 669.5C274.8 677.2 275.4 686.3 276.0 694.3C276.6 702.3 277.2 710.0 277.8 717.4C278.4 724.8 279.0 731.3 279.6 738.7C280.2 746.1 280.7 754.4 281.3 761.8C281.9 769.2 282.4 775.9 283.1 783.1C283.8 790.3 284.7 798.5 285.3 805.0C285.9 811.5 286.2 816.5 286.8 822.0C287.4 827.5 288.0 833.3 288.8 838.0C289.6 842.7 290.6 847.0 291.5 850.0C292.4 853.0 293.5 854.8 294.5 856.0C295.5 857.2 296.5 858.5 297.5 857.5C298.5 856.5 299.3 853.2 300.3 850.0C301.3 846.8 302.5 842.3 303.5 838.5C304.5 834.7 305.5 830.8 306.5 827.0C307.5 823.2 308.3 820.2 309.3 816.0C310.3 811.8 311.3 807.0 312.6 801.5C313.9 796.0 315.4 790.3 317.0 783.1C318.6 775.9 320.5 766.6 322.3 758.3C324.1 750.0 325.9 741.6 327.6 733.4C329.3 725.2 330.8 718.0 332.5 709.0C334.2 700.0 336.0 689.1 337.6 679.6C339.2 670.1 340.7 660.8 342.2 652.2C343.7 643.6 345.0 635.0 346.8 627.9C348.6 620.8 350.8 614.4 352.8 609.6C354.8 604.8 356.9 601.7 358.9 598.9C360.9 596.1 363.0 594.3 365.0 592.8C367.0 591.3 369.1 589.5 371.1 589.8C373.1 590.1 375.2 591.6 377.2 594.4C379.2 597.2 381.0 601.7 383.3 606.5C385.6 611.3 388.6 618.0 390.9 623.3C393.2 628.6 395.0 633.2 397.0 638.5C399.0 643.8 401.1 649.7 403.1 655.3C405.1 660.9 406.9 666.2 409.2 672.0C411.5 677.8 414.0 684.5 416.8 690.3C419.6 696.0 423.4 702.3 426.0 706.5C428.6 710.7 430.1 712.7 432.2 715.7C434.2 718.8 436.3 722.0 438.3 724.8C440.3 727.6 442.4 730.1 444.4 732.4C446.4 734.7 448.2 737.1 450.5 738.5C452.8 739.9 455.5 740.5 458.0 740.8C460.5 741.0 463.5 740.6 465.7 740.0C467.9 739.4 469.4 738.8 471.0 737.0C472.6 735.2 474.1 732.0 475.5 729.0C476.9 726.0 478.0 723.0 479.4 718.7C480.8 714.5 482.6 708.1 484.0 703.5C485.4 698.9 486.5 694.3 487.8 691.3C489.1 688.2 490.2 685.8 491.6 685.2C493.0 684.6 494.6 686.2 496.0 687.5C497.4 688.8 498.8 690.1 500.0 692.8C501.2 695.5 502.0 699.9 503.0 703.5C504.0 707.1 504.9 710.4 506.0 714.2C507.1 718.0 508.4 722.5 509.8 726.3C511.2 730.1 512.9 733.7 514.4 737.0C515.9 740.3 517.4 742.7 519.0 746.0C520.6 749.3 522.5 753.5 524.3 756.8C526.1 760.1 528.0 763.0 529.6 766.0C531.2 769.0 532.5 772.0 534.2 775.0C535.9 778.0 537.9 781.4 540.0 784.2C542.1 787.0 544.0 790.5 546.9 792.0C549.8 793.5 553.7 792.6 557.1 793.2C560.5 793.8 564.2 795.4 567.2 795.8C570.2 796.2 572.3 796.9 574.8 795.8C577.3 794.7 579.4 791.3 582.4 789.4C585.4 787.5 589.2 784.4 592.6 784.4C596.0 784.4 599.3 787.3 602.7 789.4C606.1 791.5 609.9 795.6 612.9 797.1C615.9 798.6 617.7 796.6 620.5 798.1C623.3 799.6 626.6 803.6 629.6 806.2C632.7 808.9 636.5 812.6 638.8 814.1C641.0 815.6 641.8 815.9 643.3 815.4C644.9 814.8 646.0 812.1 647.9 810.8C649.8 809.5 651.7 808.4 654.8 807.5C657.8 806.7 662.0 806.6 666.2 805.7C670.4 804.8 675.9 803.1 679.9 802.2C683.9 801.3 687.4 800.5 690.3 800.4C693.2 800.3 694.3 800.7 697.1 801.7C700.0 802.7 704.3 805.1 707.3 806.5C710.3 807.9 712.4 808.8 714.9 809.8C717.4 810.8 720.0 812.5 722.5 812.3C725.1 812.1 727.6 810.2 730.1 808.5C732.7 806.8 734.8 803.5 737.7 802.2C740.7 800.9 744.5 801.1 747.9 800.9C751.3 800.7 755.2 801.1 758.1 800.9C760.9 800.7 763.8 799.9 764.9 799.6"/>
</g>
<text transform="translate(11.70,455.00) scale(1.007,1)" font-size="28.0" font-weight="bold">B</text>
<text transform="translate(64.11,513.70) scale(1.047,1)" font-size="16.4" font-weight="bold">Cz</text>
<text transform="translate(54.40,551.80) scale(1.021,1)" font-size="16.5">−100</text>
<text transform="translate(148.92,551.80) scale(1.000,1)" font-size="16.5">0</text>
<text transform="translate(215.93,551.80) scale(1.000,1)" font-size="16.5">100</text>
<text transform="translate(293.44,551.80) scale(1.000,1)" font-size="16.5">200</text>
<text transform="translate(370.74,551.80) scale(1.000,1)" font-size="16.5">300</text>
<text transform="translate(448.37,551.80) scale(1.000,1)" font-size="16.5">400</text>
<text transform="translate(524.72,552.20) scale(1.000,1)" font-size="16.5">500</text>
<text transform="translate(598.64,549.80) scale(1.000,1)" font-size="16.5">600</text>
<text transform="translate(676.64,552.20) scale(1.000,1)" font-size="16.5">700</text>
<text transform="translate(728.46,552.20) scale(1.000,1)" font-size="16.5">ms</text>
<text transform="translate(44.79,567.70) scale(1.000,1)" font-size="16.5">−3</text>
<text transform="translate(42.47,657.60) scale(1.000,1)" font-size="16.5">−1</text>
<text transform="translate(52.13,743.80) scale(1.000,1)" font-size="16.5">1</text>
<text transform="translate(53.64,830.70) scale(1.000,1)" font-size="16.5">3</text>
<text transform="translate(47.00,709.41) rotate(-90) scale(1.025,1)" font-size="16.6" font-weight="bold">µV</text>
<circle cx="561.0" cy="487.1" r="2.2" fill="#030303"/>
<circle cx="569.9" cy="487.1" r="2.2" fill="#030303"/>
<circle cx="578.6" cy="487.1" r="2.2" fill="#030303"/>
<circle cx="587.1" cy="487.1" r="2.2" fill="#030303"/>
<text transform="translate(597.07,491.50) scale(0.935,1)" font-size="11.3">Anger</text>
<line x1="655.1" y1="487.6" x2="684.3" y2="487.6" stroke="#444" stroke-width="2.3"/>
<text transform="translate(691.01,493.40) scale(0.956,1)" font-size="11.3">Happy</text>
<line x1="561.4" y1="511.5" x2="591.1" y2="511.5" stroke="#030303" stroke-width="2.7"/>
<text transform="translate(597.39,515.80) scale(0.981,1)" font-size="11.3">Neutral</text>
<line x1="655.1" y1="511.5" x2="663.1" y2="511.5" stroke="#555" stroke-width="2.5"/>
<line x1="670.4" y1="511.5" x2="679.1" y2="511.5" stroke="#555" stroke-width="2.5"/>
<text transform="translate(691.66,515.80) scale(1.007,1)" font-size="11.3">Pain</text>
<!-- Panel C -->
<clipPath id="clipC"><rect x="72.4" y="1016.2" width="692.1" height="323.8"/></clipPath>
<g stroke="#464646" stroke-width="1.3" fill="none">
<line x1="67.2" y1="1138.5" x2="764.5" y2="1138.5"/>
<line x1="67.2" y1="1258.8" x2="764.5" y2="1258.8"/>
<line x1="67.2" y1="1058.3" x2="72.4" y2="1058.3"/>
<line x1="67.2" y1="1098.4" x2="72.4" y2="1098.4"/>
<line x1="67.2" y1="1178.6" x2="72.4" y2="1178.6"/>
<line x1="67.2" y1="1218.7" x2="72.4" y2="1218.7"/>
<line x1="67.2" y1="1298.9" x2="72.4" y2="1298.9"/>
<rect x="72.4" y="1018.2" width="692.1" height="319.8"/>
</g>
<g stroke="#0c0c0c" stroke-width="1.7">
<line x1="72.4" y1="1058.3" x2="764.5" y2="1058.3"/>
<line x1="149.3" y1="1058.3" x2="149.3" y2="1062.3" stroke-width="1"/>
<line x1="303.1" y1="1058.3" x2="303.1" y2="1062.3" stroke-width="1"/>
<line x1="456.9" y1="1058.3" x2="456.9" y2="1062.3" stroke-width="1"/>
<line x1="610.7" y1="1058.3" x2="610.7" y2="1062.3" stroke-width="1"/>
<line x1="764.5" y1="1058.3" x2="764.5" y2="1062.3" stroke-width="1"/>
</g>
<g fill="none" stroke-linejoin="round" clip-path="url(#clipC)">
<path stroke="#030303" stroke-width="4.09" stroke-linecap="round" stroke-dasharray="0.01 7.8" d="M72.2 1081.1C73.3 1080.1 76.8 1077.2 79.0 1075.5C81.3 1073.8 83.8 1072.7 85.9 1070.9C88.0 1069.1 89.7 1066.8 91.7 1064.6C93.8 1062.4 95.8 1059.0 98.1 1057.7C100.3 1056.4 102.7 1056.9 105.2 1057.0C107.6 1057.0 110.2 1058.3 112.8 1058.2C115.4 1058.1 118.3 1056.4 120.9 1056.4C123.5 1056.4 126.0 1057.5 128.5 1058.2C131.1 1058.9 133.6 1060.8 136.1 1060.8C138.7 1060.8 141.4 1059.2 143.8 1058.2C146.1 1057.3 147.8 1056.2 150.1 1055.2C152.4 1054.1 155.2 1053.1 157.7 1051.9C160.3 1050.7 163.2 1049.8 165.3 1048.1C167.4 1046.4 168.7 1043.9 170.4 1041.7C172.1 1039.5 173.4 1036.7 175.5 1034.9C177.6 1033.1 180.6 1031.8 183.1 1030.8C185.6 1029.8 188.2 1028.8 190.7 1029.0C193.2 1029.3 196.1 1030.6 198.3 1032.3C200.6 1034.0 202.3 1037.0 204.2 1039.2C206.1 1041.4 207.8 1043.4 209.7 1045.5C211.7 1047.6 214.2 1049.1 216.1 1051.9C218.0 1054.6 219.5 1056.7 221.2 1062.0C222.9 1067.3 224.6 1075.8 226.2 1083.6C227.9 1091.4 229.6 1101.4 231.3 1109.0C233.0 1116.6 234.8 1124.2 236.4 1129.3C238.0 1134.4 239.2 1139.4 240.7 1139.4C242.2 1139.4 243.9 1134.8 245.3 1129.3C246.7 1123.8 247.8 1114.5 249.1 1106.4C250.4 1098.4 251.6 1089.5 252.9 1081.1C254.2 1072.6 255.3 1063.7 256.7 1055.7C258.1 1047.6 260.0 1037.4 261.3 1032.8C262.6 1028.3 263.5 1028.2 264.6 1028.3C265.7 1028.4 266.9 1029.6 267.9 1033.4C269.0 1037.1 269.6 1042.7 271.0 1050.6C272.3 1058.6 274.3 1070.9 276.0 1081.1C277.7 1091.2 279.4 1102.6 281.1 1111.5C282.8 1120.4 284.4 1127.8 286.2 1134.4C288.0 1140.9 290.2 1146.6 292.0 1150.9C293.8 1155.1 295.4 1157.8 297.1 1159.7C298.8 1161.6 300.6 1162.4 302.2 1162.3C303.7 1162.2 305.0 1160.7 306.5 1159.2C308.0 1157.8 309.5 1156.1 311.1 1153.4C312.7 1150.7 313.8 1147.7 316.1 1143.2C318.5 1138.8 321.9 1132.7 325.0 1126.8C328.2 1120.8 332.0 1114.5 335.2 1107.7C338.4 1100.9 341.8 1090.9 344.1 1086.1C346.3 1081.4 347.1 1080.6 348.6 1079.0C350.1 1077.4 351.5 1076.5 352.9 1076.5C354.4 1076.5 355.8 1077.4 357.5 1079.0C359.2 1080.6 360.7 1082.0 363.1 1086.1C365.5 1090.3 368.8 1097.4 372.0 1103.9C375.2 1110.5 379.0 1120.0 382.1 1125.5C385.3 1131.0 388.3 1132.9 391.0 1136.9C393.8 1140.9 396.1 1144.9 398.6 1149.6C401.2 1154.2 403.5 1159.1 406.2 1164.8C409.0 1170.5 412.4 1178.1 415.1 1183.9C417.9 1189.6 420.2 1194.0 422.7 1199.1C425.3 1204.2 428.7 1210.3 430.4 1214.3C432.0 1218.4 431.7 1220.5 432.7 1223.3C433.7 1226.1 435.0 1228.4 436.5 1230.9C438.0 1233.5 439.7 1236.4 441.6 1238.5C443.5 1240.6 445.6 1242.8 447.9 1243.6C450.2 1244.5 453.2 1243.6 455.5 1243.6C457.9 1243.6 459.6 1243.0 461.9 1243.6C464.2 1244.2 467.0 1247.0 469.5 1247.4C472.0 1247.8 474.8 1247.6 477.1 1246.1C479.4 1244.7 481.5 1240.9 483.5 1238.5C485.4 1236.2 486.6 1233.9 488.5 1232.2C490.4 1230.5 492.8 1229.4 494.9 1228.4C497.0 1227.3 499.3 1224.4 501.2 1225.8C503.1 1227.3 504.6 1233.9 506.3 1237.3C508.0 1240.6 509.5 1243.6 511.4 1246.1C513.3 1248.7 515.8 1250.4 517.7 1252.5C519.6 1254.6 521.1 1256.7 522.8 1258.8C524.5 1260.9 526.2 1262.9 527.9 1265.2C529.6 1267.5 531.0 1270.3 532.9 1272.8C534.8 1275.3 537.2 1278.3 539.3 1280.4C541.4 1282.5 543.5 1284.8 545.6 1285.5C547.7 1286.2 549.9 1285.8 552.0 1284.7C554.1 1283.7 556.2 1281.1 558.3 1279.1C560.4 1277.1 562.6 1274.9 564.7 1272.8C566.8 1270.7 568.9 1268.6 571.0 1266.4C573.1 1264.3 575.2 1261.8 577.4 1260.1C579.5 1258.4 581.8 1258.2 583.7 1256.3C585.6 1254.4 586.9 1250.8 588.8 1248.7C590.7 1246.6 593.0 1245.5 595.1 1243.6C597.2 1241.7 599.4 1239.2 601.5 1237.3C603.6 1235.3 605.6 1232.5 607.8 1231.7C610.0 1230.9 612.2 1232.1 614.6 1232.5C617.1 1232.8 619.7 1234.6 622.3 1233.8C624.8 1232.9 627.3 1228.9 629.9 1227.4C632.4 1225.9 635.0 1224.9 637.5 1224.9C640.0 1224.9 642.4 1226.7 645.1 1227.4C647.8 1228.1 650.7 1229.4 653.5 1229.2C656.2 1229.0 659.0 1226.6 661.6 1226.1C664.2 1225.6 666.7 1226.6 669.2 1226.1C671.8 1225.7 674.5 1225.1 676.8 1223.6C679.2 1222.1 681.3 1219.2 683.2 1217.3C685.1 1215.4 686.4 1213.7 688.3 1212.2C690.2 1210.7 692.1 1209.5 694.6 1208.4C697.1 1207.2 700.7 1206.0 703.5 1205.3C706.2 1204.7 708.8 1203.6 711.1 1204.6C713.4 1205.5 715.3 1208.9 717.4 1210.9C719.6 1212.9 721.5 1215.9 723.8 1216.5C726.1 1217.1 729.3 1216.1 731.4 1214.7C733.5 1213.4 734.6 1210.5 736.5 1208.4C738.4 1206.3 740.7 1203.7 742.8 1202.0C744.9 1200.3 746.8 1199.1 749.2 1198.2C751.5 1197.4 754.5 1197.8 756.8 1197.0C759.1 1196.1 762.1 1193.8 763.1 1193.1"/>
<path stroke="#484848" stroke-width="2.84" d="M72.2 1087.4C73.5 1088.0 77.7 1090.8 80.3 1091.2C82.9 1091.6 85.0 1091.4 87.9 1089.9C90.9 1088.5 94.7 1085.3 98.1 1082.3C101.5 1079.4 104.8 1075.6 108.2 1072.2C111.6 1068.8 115.0 1064.8 118.4 1062.0C121.8 1059.3 125.1 1057.0 128.5 1055.7C131.9 1054.4 135.3 1054.6 138.7 1054.4C142.1 1054.2 145.4 1054.6 148.8 1054.4C152.2 1054.2 155.6 1053.6 159.0 1053.1C162.4 1052.7 165.8 1051.9 169.1 1051.9C172.5 1051.9 176.3 1053.6 179.3 1053.1C182.3 1052.7 184.4 1051.2 186.9 1049.3C189.4 1047.4 192.0 1043.9 194.5 1041.7C197.1 1039.5 200.2 1037.2 202.1 1036.1C204.0 1035.1 204.2 1034.7 205.9 1035.4C207.6 1036.1 210.2 1037.5 212.3 1040.5C214.4 1043.4 216.7 1047.6 218.6 1053.1C220.5 1058.6 222.0 1065.8 223.7 1073.5C225.4 1081.1 226.9 1089.9 228.8 1098.8C230.7 1107.7 233.2 1119.8 235.1 1126.8C237.0 1133.7 238.5 1140.1 240.2 1140.7C241.9 1141.3 243.8 1136.1 245.3 1130.6C246.8 1125.1 247.8 1115.8 249.1 1107.7C250.4 1099.7 251.6 1090.4 252.9 1082.3C254.2 1074.3 255.3 1066.3 256.7 1059.5C258.1 1052.7 260.1 1044.9 261.3 1041.5C262.6 1038.1 263.2 1039.1 264.1 1039.2C265.0 1039.3 265.8 1039.4 266.9 1042.0C268.0 1044.5 269.0 1047.5 270.5 1054.4C271.9 1061.4 273.8 1073.5 275.5 1083.6C277.2 1093.8 278.9 1105.4 280.6 1115.3C282.3 1125.3 284.0 1135.8 285.7 1143.2C287.4 1150.7 289.2 1155.7 290.8 1160.3C292.4 1164.8 293.8 1168.2 295.3 1170.4C296.8 1172.6 298.3 1173.8 299.6 1173.7C301.0 1173.6 302.2 1171.8 303.5 1169.9C304.7 1168.0 305.4 1166.1 307.3 1162.3C309.2 1158.5 312.1 1152.8 314.9 1147.1C317.6 1141.3 320.6 1134.4 323.8 1128.0C326.9 1121.7 330.5 1115.1 333.9 1109.0C337.3 1102.9 341.4 1095.0 344.1 1091.2C346.7 1087.4 348.0 1087.2 349.6 1086.1C351.3 1085.1 352.7 1084.8 354.2 1084.9C355.7 1085.0 357.1 1085.6 358.8 1086.6C360.5 1087.7 362.2 1087.9 364.4 1091.2C366.6 1094.5 369.4 1100.5 372.0 1106.4C374.5 1112.4 377.1 1120.6 379.6 1126.8C382.1 1132.9 384.2 1138.2 387.2 1143.2C390.2 1148.3 394.0 1151.1 397.4 1157.2C400.7 1163.3 404.1 1172.4 407.5 1180.1C410.9 1187.7 414.3 1195.7 417.7 1202.9C421.0 1210.1 424.9 1217.3 427.8 1223.2C430.7 1229.1 432.7 1234.7 435.2 1238.5C437.7 1242.4 439.9 1245.3 442.8 1246.1C445.8 1247.0 449.6 1243.6 453.0 1243.6C456.4 1243.6 460.2 1244.7 463.1 1246.1C466.1 1247.6 468.4 1251.0 470.8 1252.5C473.1 1254.0 475.0 1256.5 477.1 1255.0C479.2 1253.5 481.3 1247.6 483.5 1243.6C485.6 1239.6 487.9 1233.7 489.8 1230.9C491.7 1228.2 493.0 1226.7 494.9 1227.1C496.8 1227.5 499.1 1229.9 501.2 1233.5C503.3 1237.0 505.2 1243.6 507.6 1248.7C509.9 1253.8 512.6 1259.3 515.2 1263.9C517.7 1268.6 520.3 1272.4 522.8 1276.6C525.3 1280.8 527.9 1285.5 530.4 1289.3C532.9 1293.1 535.5 1297.1 538.0 1299.4C540.6 1301.8 542.9 1303.0 545.6 1303.2C548.4 1303.5 551.3 1302.6 554.5 1300.7C557.7 1298.8 561.3 1295.8 564.7 1291.8C568.1 1287.8 571.4 1281.3 574.8 1276.6C578.2 1271.9 581.6 1267.7 585.0 1263.9C588.4 1260.1 591.7 1256.7 595.1 1253.8C598.5 1250.8 601.4 1247.6 605.3 1246.1C609.2 1244.7 615.0 1246.6 618.5 1245.2C621.9 1243.7 623.5 1239.5 626.1 1237.6C628.6 1235.7 631.1 1234.0 633.7 1233.8C636.2 1233.5 638.8 1236.1 641.3 1236.3C643.8 1236.5 646.4 1236.5 648.9 1235.0C651.5 1233.5 654.0 1229.5 656.5 1227.4C659.1 1225.3 661.6 1222.8 664.1 1222.3C666.7 1221.9 669.2 1224.2 671.8 1224.9C674.3 1225.5 676.8 1226.4 679.4 1226.1C681.9 1225.9 684.4 1225.1 687.0 1223.6C689.5 1222.1 692.1 1219.0 694.6 1217.3C697.1 1215.6 699.7 1214.1 702.2 1213.5C704.8 1212.8 706.9 1213.9 709.8 1213.5C712.8 1213.0 716.6 1211.5 720.0 1210.9C723.4 1210.3 726.7 1209.4 730.1 1209.6C733.5 1209.9 737.3 1211.8 740.3 1212.2C743.2 1212.6 745.4 1213.0 747.9 1212.2C750.4 1211.3 753.0 1208.8 755.5 1207.1C758.1 1205.4 761.9 1202.9 763.1 1202.0"/>
<path stroke="#080808" stroke-width="2.10" d="M72.2 1086.1C73.5 1085.9 77.7 1085.5 80.3 1084.9C82.9 1084.2 85.0 1084.0 87.9 1082.3C90.9 1080.6 94.7 1077.3 98.1 1074.7C101.5 1072.2 105.3 1069.0 108.2 1067.1C111.2 1065.2 112.9 1064.1 115.8 1063.3C118.8 1062.5 123.0 1063.1 126.0 1062.0C129.0 1061.0 131.1 1058.6 133.6 1057.0C136.1 1055.3 138.9 1053.1 141.2 1051.9C143.5 1050.6 145.4 1049.3 147.6 1049.3C149.7 1049.3 151.6 1051.2 153.9 1051.9C156.2 1052.5 159.0 1053.6 161.5 1053.1C164.1 1052.7 166.6 1050.1 169.1 1049.3C171.7 1048.6 174.2 1048.9 176.8 1048.6C179.3 1048.3 181.8 1048.7 184.4 1047.6C186.9 1046.4 189.7 1042.3 192.0 1041.7C194.3 1041.2 196.2 1042.6 198.3 1044.3C200.4 1046.0 202.3 1050.0 204.7 1051.9C207.0 1053.8 210.0 1054.6 212.3 1055.7C214.6 1056.7 216.9 1056.1 218.6 1058.2C220.3 1060.3 221.0 1062.9 222.4 1068.4C223.9 1073.9 225.8 1083.2 227.5 1091.2C229.2 1099.3 230.9 1109.0 232.6 1116.6C234.3 1124.2 236.3 1132.6 237.7 1136.9C239.0 1141.2 239.4 1143.3 240.7 1142.5C242.0 1141.6 243.9 1137.4 245.3 1131.8C246.7 1126.2 247.8 1117.0 249.1 1109.0C250.4 1100.9 251.6 1091.6 252.9 1083.6C254.2 1075.6 255.3 1068.0 256.7 1060.8C258.1 1053.6 260.1 1044.3 261.3 1040.5C262.6 1036.6 263.2 1037.8 264.1 1037.9C265.0 1038.0 265.8 1038.4 266.9 1041.0C268.0 1043.5 269.0 1046.0 270.5 1053.1C271.9 1060.3 273.8 1073.0 275.5 1083.6C277.2 1094.2 278.9 1106.0 280.6 1116.6C282.3 1127.2 284.1 1138.8 285.7 1147.1C287.3 1155.3 288.9 1160.9 290.3 1166.1C291.6 1171.3 292.8 1175.1 294.1 1178.0C295.3 1180.9 296.6 1183.1 297.9 1183.4C299.1 1183.6 300.3 1181.6 301.7 1179.5C303.0 1177.5 304.0 1175.7 306.0 1171.2C308.0 1166.6 310.6 1159.1 313.6 1152.1C316.6 1145.2 320.4 1136.5 323.8 1129.3C327.1 1122.1 330.5 1115.8 333.9 1109.0C337.3 1102.2 341.5 1092.9 344.1 1088.7C346.6 1084.5 347.7 1084.7 349.1 1083.6C350.6 1082.5 351.6 1082.3 352.9 1082.3C354.3 1082.4 355.4 1082.6 357.3 1084.1C359.2 1085.6 361.9 1087.5 364.4 1091.2C366.8 1094.9 369.4 1100.5 372.0 1106.4C374.5 1112.4 377.1 1120.4 379.6 1126.8C382.1 1133.1 384.2 1138.6 387.2 1144.5C390.2 1150.4 394.0 1155.5 397.4 1162.3C400.7 1169.1 404.1 1177.5 407.5 1185.1C410.9 1192.7 414.3 1200.4 417.7 1208.0C421.0 1215.6 424.9 1224.5 427.8 1230.8C430.7 1237.2 432.7 1241.0 435.2 1246.1C437.7 1251.2 440.3 1257.4 442.8 1261.4C445.4 1265.4 447.9 1269.0 450.5 1270.3C453.0 1271.5 455.7 1269.4 458.1 1269.0C460.4 1268.6 462.1 1267.3 464.4 1267.7C466.7 1268.1 469.7 1271.7 472.0 1271.5C474.4 1271.3 476.5 1269.8 478.4 1266.4C480.3 1263.1 481.8 1255.9 483.5 1251.2C485.1 1246.6 487.0 1241.2 488.5 1238.5C490.0 1235.9 490.9 1235.3 492.3 1235.5C493.8 1235.7 495.5 1236.8 497.4 1239.8C499.3 1242.8 501.4 1249.7 503.8 1253.8C506.1 1257.8 508.8 1260.1 511.4 1263.9C513.9 1267.7 516.4 1271.9 519.0 1276.6C521.5 1281.3 524.1 1287.4 526.6 1291.8C529.1 1296.3 531.9 1301.1 534.2 1303.2C536.5 1305.4 538.0 1304.7 540.6 1304.5C543.1 1304.3 546.3 1303.7 549.4 1302.0C552.6 1300.3 556.2 1297.7 559.6 1294.4C563.0 1291.0 566.4 1285.5 569.7 1281.7C573.1 1277.9 576.5 1274.9 579.9 1271.5C583.3 1268.1 586.7 1264.8 590.1 1261.4C593.4 1258.0 597.0 1254.0 600.2 1251.2C603.4 1248.5 606.3 1245.5 609.1 1244.9C611.9 1244.3 614.4 1248.3 617.2 1247.7C620.0 1247.1 623.3 1242.2 626.1 1241.4C628.8 1240.5 631.4 1242.2 633.7 1242.6C636.0 1243.1 637.9 1244.5 640.0 1243.9C642.1 1243.3 644.0 1240.9 646.4 1238.8C648.7 1236.7 651.5 1232.5 654.0 1231.2C656.5 1229.9 658.6 1231.4 661.6 1231.2C664.6 1231.0 668.4 1230.5 671.8 1229.9C675.1 1229.4 679.2 1228.8 681.9 1228.2C684.7 1227.5 686.1 1227.5 688.3 1226.1C690.4 1224.7 692.5 1221.7 694.6 1219.8C696.7 1217.9 698.4 1215.6 700.9 1214.7C703.5 1213.9 706.7 1215.1 709.8 1214.7C713.0 1214.3 716.6 1213.5 720.0 1212.2C723.4 1210.9 726.7 1208.6 730.1 1207.1C733.5 1205.6 736.9 1204.4 740.3 1203.3C743.7 1202.2 747.5 1201.6 750.4 1200.8C753.4 1199.9 755.7 1199.1 758.1 1198.2C760.4 1197.4 763.3 1196.1 764.4 1195.7"/>
<path stroke="#484848" stroke-width="4.09" stroke-dasharray="11 6.5" d="M72.2 1082.3C73.5 1081.3 77.7 1077.7 80.3 1076.0C82.9 1074.3 85.0 1073.5 87.9 1072.2C90.9 1070.9 94.7 1069.6 98.1 1068.4C101.5 1067.1 104.8 1065.8 108.2 1064.6C111.6 1063.3 115.0 1062.2 118.4 1060.8C121.8 1059.3 125.1 1056.7 128.5 1055.7C131.9 1054.6 135.7 1054.6 138.7 1054.4C141.6 1054.2 144.0 1055.5 146.3 1054.4C148.6 1053.4 150.7 1050.8 152.6 1048.1C154.5 1045.3 155.8 1041.1 157.7 1037.9C159.6 1034.7 161.7 1030.9 164.1 1029.0C166.4 1027.1 169.1 1026.7 171.7 1026.5C174.2 1026.3 176.8 1026.9 179.3 1027.8C181.8 1028.6 184.4 1029.9 186.9 1031.6C189.4 1033.3 192.0 1036.6 194.5 1037.9C197.1 1039.2 199.6 1038.1 202.1 1039.2C204.7 1040.2 207.4 1042.4 209.7 1044.3C212.1 1046.2 214.2 1047.4 216.1 1050.6C218.0 1053.8 219.3 1056.5 221.2 1063.3C223.1 1070.1 225.4 1081.9 227.5 1091.2C229.6 1100.5 232.2 1111.9 233.9 1119.1C235.5 1126.3 236.6 1131.2 237.7 1134.4C238.7 1137.5 239.2 1138.6 240.2 1138.2C241.2 1137.7 242.3 1136.9 243.8 1131.8C245.2 1126.8 247.6 1116.0 249.1 1107.7C250.6 1099.5 251.6 1090.4 252.9 1082.3C254.2 1074.3 255.3 1066.4 256.7 1059.5C258.1 1052.6 260.1 1044.5 261.3 1041.0C262.6 1037.5 263.2 1038.3 264.1 1038.4C265.0 1038.5 265.8 1038.9 266.9 1041.5C268.0 1044.0 269.0 1046.6 270.5 1053.7C271.9 1060.7 273.8 1073.5 275.5 1083.6C277.2 1093.7 278.9 1105.2 280.6 1114.1C282.3 1122.9 284.0 1130.8 285.7 1136.9C287.4 1143.0 289.2 1147.4 290.8 1150.9C292.4 1154.3 293.8 1156.2 295.3 1157.7C296.8 1159.2 298.2 1159.7 299.6 1159.7C301.1 1159.7 302.5 1158.9 304.0 1157.7C305.4 1156.5 306.7 1155.1 308.5 1152.6C310.3 1150.2 312.3 1147.4 314.9 1143.2C317.4 1139.1 320.6 1133.5 323.8 1128.0C326.9 1122.5 330.5 1116.0 333.9 1110.3C337.3 1104.5 341.3 1097.4 344.1 1093.8C346.8 1090.2 348.5 1089.7 350.4 1088.7C352.3 1087.6 353.9 1087.4 355.5 1087.4C357.0 1087.4 358.3 1088.0 359.8 1088.7C361.3 1089.4 362.3 1088.6 364.4 1091.7C366.4 1094.9 369.0 1100.6 372.0 1107.7C374.9 1114.8 378.7 1125.7 382.1 1134.4C385.5 1143.0 388.9 1151.7 392.3 1159.7C395.7 1167.8 399.1 1175.0 402.4 1182.6C405.8 1190.2 409.2 1199.1 412.6 1205.4C416.0 1211.8 419.4 1216.0 422.7 1220.7C426.1 1225.3 430.0 1229.5 432.9 1233.4C435.8 1237.2 438.1 1240.9 440.1 1243.6C442.0 1246.3 443.1 1248.1 444.9 1249.7C446.7 1251.3 448.8 1252.6 451.0 1253.0C453.2 1253.4 455.6 1252.2 458.1 1252.0C460.6 1251.7 463.4 1250.8 465.9 1251.5C468.5 1252.1 471.3 1256.1 473.6 1256.0C475.8 1256.0 477.8 1254.1 479.6 1251.2C481.5 1248.3 483.0 1242.8 484.7 1238.5C486.4 1234.3 488.2 1228.6 489.8 1225.8C491.4 1223.1 492.4 1222.0 494.1 1222.0C495.8 1222.0 497.9 1223.1 499.9 1225.8C502.0 1228.6 504.2 1233.9 506.3 1238.5C508.4 1243.2 510.3 1248.7 512.6 1253.8C515.0 1258.8 517.7 1263.9 520.3 1269.0C522.8 1274.1 525.3 1279.6 527.9 1284.2C530.4 1288.9 532.9 1293.6 535.5 1296.9C538.0 1300.2 540.6 1303.6 543.1 1304.0C545.6 1304.4 548.2 1301.7 550.7 1299.4C553.2 1297.2 555.8 1293.9 558.3 1290.6C560.9 1287.2 563.2 1283.6 565.9 1279.1C568.7 1274.7 572.1 1268.6 574.8 1263.9C577.6 1259.3 579.9 1254.2 582.4 1251.2C585.0 1248.3 587.1 1247.0 590.1 1246.1C593.0 1245.3 597.2 1246.7 600.2 1246.1C603.2 1245.6 605.3 1244.1 608.3 1242.6C611.3 1241.2 615.1 1239.5 618.5 1237.6C621.8 1235.7 625.2 1233.1 628.6 1231.2C632.0 1229.3 635.4 1227.6 638.8 1226.1C642.1 1224.7 645.5 1223.7 648.9 1222.3C652.3 1221.0 655.7 1219.3 659.1 1218.0C662.5 1216.8 666.3 1215.7 669.2 1214.7C672.2 1213.7 674.3 1214.1 676.8 1212.2C679.4 1210.3 682.3 1205.8 684.4 1203.3C686.6 1200.8 687.8 1198.2 689.5 1197.0C691.2 1195.7 692.7 1195.3 694.6 1195.7C696.5 1196.1 698.8 1197.6 700.9 1199.5C703.1 1201.4 705.0 1205.2 707.3 1207.1C709.6 1209.0 712.4 1210.5 714.9 1210.9C717.4 1211.3 720.0 1210.7 722.5 1209.6C725.1 1208.6 727.2 1206.3 730.1 1204.6C733.1 1202.9 737.3 1201.4 740.3 1199.5C743.2 1197.6 745.4 1194.6 747.9 1193.1C750.4 1191.7 753.0 1190.4 755.5 1190.6C758.1 1190.8 761.9 1193.8 763.1 1194.4"/>
</g>
<text transform="translate(11.91,963.70) scale(0.931,1)" font-size="29.2" font-weight="bold">C</text>
<text transform="translate(63.23,967.80) scale(1.066,1)" font-size="16.2" font-weight="bold">Pz</text>
<text transform="translate(52.40,1003.70) scale(1.015,1)" font-size="16.5">−100</text>
<text transform="translate(146.02,1003.70) scale(1.000,1)" font-size="16.5">0</text>
<text transform="translate(214.43,1003.70) scale(1.000,1)" font-size="16.5">100</text>
<text transform="translate(286.64,1003.70) scale(1.000,1)" font-size="16.5">200</text>
<text transform="translate(369.74,1003.70) scale(1.000,1)" font-size="16.5">300</text>
<text transform="translate(446.87,1003.70) scale(1.000,1)" font-size="16.5">400</text>
<text transform="translate(526.72,1003.70) scale(1.000,1)" font-size="16.5">500</text>
<text transform="translate(602.14,1003.70) scale(1.000,1)" font-size="16.5">600</text>
<text transform="translate(677.64,1003.70) scale(1.000,1)" font-size="16.5">700</text>
<text transform="translate(722.76,1003.70) scale(1.000,1)" font-size="16.5">ms</text>
<text transform="translate(39.17,1022.60) scale(1.000,1)" font-size="16.5">−1</text>
<text transform="translate(52.43,1142.40) scale(1.000,1)" font-size="16.5">2</text>
<text transform="translate(50.80,1262.80) scale(1.000,1)" font-size="16.5">5</text>
<text transform="translate(42.70,1159.30) rotate(-90) scale(1.019,1)" font-size="16.6" font-weight="bold">µV</text>
<circle cx="578.2" cy="944.8" r="2.2" fill="#030303"/>
<circle cx="587.2" cy="944.8" r="2.2" fill="#030303"/>
<circle cx="595.8" cy="944.8" r="2.2" fill="#030303"/>
<circle cx="604.3" cy="944.8" r="2.2" fill="#030303"/>
<text transform="translate(615.97,949.40) scale(0.942,1)" font-size="11.3">Anger</text>
<line x1="671.9" y1="944.8" x2="700.9" y2="944.8" stroke="#444" stroke-width="2.3"/>
<text transform="translate(705.62,950.10) scale(0.946,1)" font-size="11.3">Happy</text>
<line x1="578.2" y1="969.3" x2="607.3" y2="969.3" stroke="#030303" stroke-width="2.7"/>
<text transform="translate(614.69,973.40) scale(0.981,1)" font-size="11.3">Neutral</text>
<line x1="671.9" y1="969.3" x2="679.9" y2="969.3" stroke="#555" stroke-width="2.5"/>
<line x1="687.7" y1="969.3" x2="695.9" y2="969.3" stroke="#555" stroke-width="2.5"/>
<text transform="translate(705.57,972.90) scale(0.992,1)" font-size="11.3">Pain</text>
</g>
</svg>
</body></html>
